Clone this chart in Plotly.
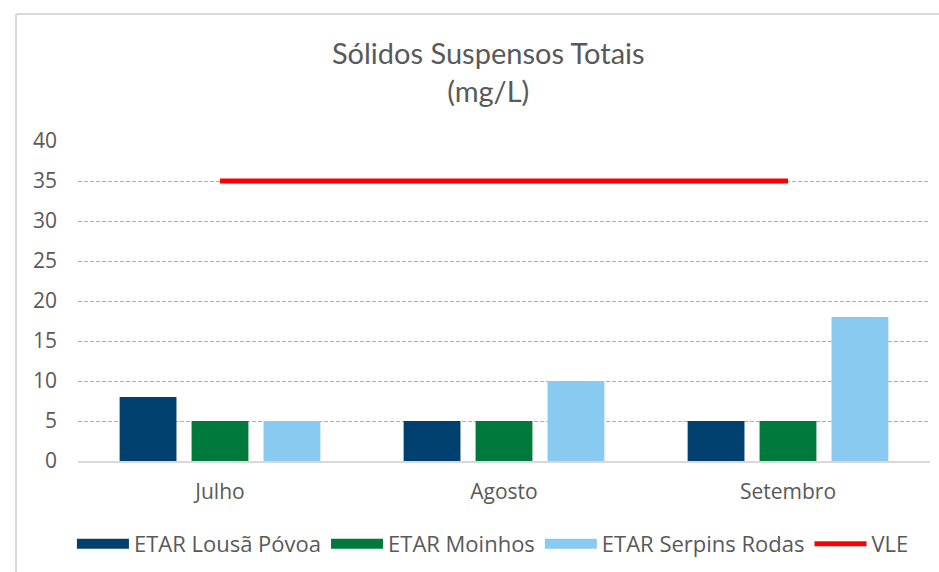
import plotly.graph_objects as go

categories = ["Julho", "Agosto", "Setembro"]
lousa = [8, 5, 5]
moinhos = [5, 5, 5]
serpins = [5, 10, 18]
vle_x = ["Julho", "Setembro"]
vle_y = [35, 35]

series = [
    ("ETAR Lousã Póvoa", lousa, "#00406F"),
    ("ETAR Moinhos", moinhos, "#007A3C"),
    ("ETAR Serpins Rodas", serpins, "#89CAF1"),
]

FONT = "'Open Sans', Lato, sans-serif"
TFONT = "Lato, 'Open Sans', sans-serif"
GREY = "#595959"

fig = go.Figure()
for name, vals, col in series:
    fig.add_trace(go.Bar(x=categories, y=vals, name=name, marker_color=col,
                         marker_line_width=0, showlegend=False, legendgroup=name))
# legend proxies (wide swatches)
for name, vals, col in series:
    fig.add_trace(go.Scatter(x=[None], y=[None], mode="lines", name=name,
                             line=dict(color=col, width=12), legendgroup=name))
fig.add_trace(go.Scatter(x=vle_x, y=vle_y, mode="lines", name="VLE",
                         line=dict(color="#FF0000", width=5)))

fig.update_layout(
    width=939, height=572,
    margin=dict(l=78, r=9, t=141, b=111, autoexpand=False),
    paper_bgcolor="white", plot_bgcolor="white",
    font=dict(family=FONT, color=GREY, size=21),
    title=dict(text="Sólidos Suspensos Totais<br>(mg/L)", x=0.52, xref="container",
               xanchor="center", y=0.888, yref="container", yanchor="top",
               font=dict(size=29, color=GREY, family=TFONT)),
    barmode="group", bargap=0.24, bargroupgap=0.21,
    legend=dict(orientation="h", x=0.487, xanchor="center", y=-0.259, yanchor="middle",
                font=dict(size=22, color=GREY, family=FONT), itemwidth=52,
                tracegroupgap=0, traceorder="normal"),
    xaxis=dict(showgrid=False, showline=True, linecolor="#D9D9D9", linewidth=2,
               ticks="", ticklabelstandoff=11, automargin=False,
               tickfont=dict(size=21, color=GREY, family=FONT)),
    yaxis=dict(range=[0, 40], dtick=5, showgrid=True, gridcolor="#ADADAD",
               griddash="4px,2px", gridwidth=1, zeroline=False, showline=False,
               ticks="", ticklabelstandoff=20, automargin=False,
               tickfont=dict(size=21, color=GREY, family=FONT)),
    shapes=[
        dict(type="line", xref="paper", yref="paper", x0=-0.0728, x1=1.2,
             y0=1.397, y1=1.397, line=dict(color="#D9D9D9", width=2)),
        dict(type="line", xref="paper", yref="paper", x0=-0.0728, x1=-0.0728,
             y0=1.397, y1=-0.5, line=dict(color="#D9D9D9", width=2)),
    ],
)

fig.write_html("out.html", config={"displayModeBar": False},
               post_script="document.body.style.margin='0px';")
